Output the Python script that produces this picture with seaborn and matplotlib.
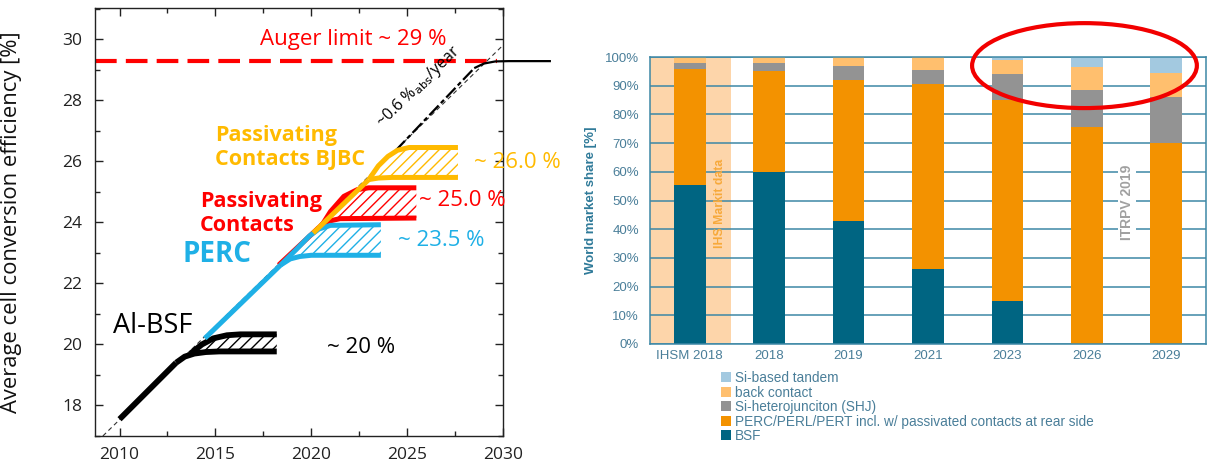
import numpy as np
import pandas as pd
import matplotlib
matplotlib.use("Agg")
import matplotlib.pyplot as plt
import seaborn as sns
from matplotlib.patches import Ellipse, Patch
from matplotlib.ticker import MultipleLocator, FuncFormatter

# ---------------- data: left chart (efficiency roadmap) ----------------
trend_x = [2009.13, 2030.0]
trend_y = [17.0, 29.8]
auger_limit = 29.27

bsf_trunk_x = [2010.0, 2012.95]
bsf_trunk_y = [17.55, 19.4]
bsf_low_x = [2012.95, 2013.4, 2013.9, 2014.5, 2015.2, 2018.2]
bsf_low_y = [19.4, 19.6, 19.7, 19.75, 19.77, 19.77]
bsf_up_x = [2013.7, 2014.3, 2014.9, 2015.6, 2016.3, 2018.2]
bsf_up_y = [19.7, 20.0, 20.2, 20.3, 20.33, 20.33]

perc_trunk_x = [2014.45, 2018.4]
perc_trunk_y = [20.2, 22.6]
perc_low_x = [2018.4, 2018.9, 2019.4, 2020.0, 2023.63]
perc_low_y = [22.6, 22.8, 22.88, 22.92, 22.92]
perc_up_x = [2018.4, 2019.2, 2019.9, 2020.4, 2021.0, 2023.63]
perc_up_y = [22.6, 23.1, 23.55, 23.78, 23.9, 23.92]

pc_trunk_x = [2018.3, 2020.6]
pc_trunk_y = [22.6, 23.95]
pc_low_x = [2020.6, 2021.0, 2021.5, 2025.48]
pc_low_y = [23.95, 24.05, 24.12, 24.14]
pc_up_x = [2020.6, 2021.0, 2021.7, 2022.4, 2023.0, 2025.48]
pc_up_y = [23.95, 24.35, 24.85, 25.07, 25.13, 25.13]

bjbc_trunk_x = [2020.1, 2023.0]
bjbc_trunk_y = [23.65, 25.4]
bjbc_low_x = [2023.0, 2023.5, 2024.2, 2027.65]
bjbc_low_y = [25.4, 25.45, 25.47, 25.47]
bjbc_up_x = [2023.0, 2023.5, 2024.0, 2024.5, 2025.1, 2027.65]
bjbc_up_y = [25.4, 25.85, 26.16, 26.36, 26.45, 26.45]

ext_dash_x = [2024.4, 2028.5]
ext_dash_y = [26.35, 29.05]
ext_solid_x = [2028.5, 2029.0, 2029.6, 2030.3, 2032.5]
ext_solid_y = [29.05, 29.2, 29.27, 29.28, 29.28]

# ---------------- data: right chart (market share) ----------------
categories = ["IHSM 2018", "2018", "2019", "2021", "2023", "2026", "2029"]
share_bsf = [55.5, 60.0, 43.0, 26.0, 15.0, 0.0, 0.0]
share_perc = [40.3, 35.0, 49.0, 64.5, 70.0, 75.5, 70.0]
share_shj = [2.2, 3.0, 5.0, 5.0, 9.0, 13.0, 16.0]
share_bc = [2.0, 2.0, 3.0, 4.5, 5.0, 8.0, 8.5]
share_tandem = [0.0, 0.0, 0.0, 0.0, 1.0, 3.5, 5.5]
legend_labels = ["Si-based tandem", "back contact", "Si-heterojunciton (SHJ)",
                 "PERC/PERL/PERT incl. w/ passivated contacts at rear side", "BSF"]

# ---------------- style ----------------
sns.set_theme(style="ticks")
plt.rcParams["font.family"] = ["Open Sans", "DejaVu Sans"]
plt.rcParams["hatch.linewidth"] = 1.0
ARIAL = ["Liberation Sans", "DejaVu Sans"]

BLACK = "#000000"
BLUE = "#1FB0E6"
RED = "#FF0000"
YELLOW = "#FFBA00"

C_TANDEM = "#A3C9E0"
C_BC = "#FFBF6E"
C_SHJ = "#939393"
C_PERC = "#F39200"
C_BSF = "#006582"
TEAL = "#3D88A6"
TXT = "#4A7E99"

fig = plt.figure(figsize=(12.07, 4.70), dpi=100)
ax1 = fig.add_axes([95 / 1207, 34 / 470, 408 / 1207, 428 / 470])
ax2 = fig.add_axes([650 / 1207, 126 / 470, 556 / 1207, 287 / 470])

# ---------------- left chart ----------------
def line(ax, x, y, color, lw, **kw):
    sns.lineplot(x=x, y=y, ax=ax, color=color, lw=lw, sort=False,
                 estimator=None, solid_capstyle="butt", **kw)

def hatch_band(ax, ux, uy, lx, ly, color, z):
    lx = np.asarray(lx); ly = np.asarray(ly)
    keep = lx > ux[0]
    px = list(ux) + list(lx[keep][::-1]) + [ux[0]]
    py = list(uy) + list(ly[keep][::-1]) + [uy[0]]
    ax.fill(px, py, facecolor="none", edgecolor=color, hatch="///", linewidth=0, zorder=z)

line(ax1, trend_x, trend_y, "#333333", 0.8, linestyle=(0, (4, 3)), zorder=1)
ax1.axhline(auger_limit, xmin=0, xmax=0.985, color=RED, lw=3, dashes=(5.2, 2.2), zorder=2)

techs = [
    (pc_trunk_x, pc_trunk_y, pc_low_x, pc_low_y, pc_up_x, pc_up_y, RED, 3.6, 3.0),
    (perc_trunk_x, perc_trunk_y, perc_low_x, perc_low_y, perc_up_x, perc_up_y, BLUE, 3.6, 3.2),
    (bjbc_trunk_x, bjbc_trunk_y, bjbc_low_x, bjbc_low_y, bjbc_up_x, bjbc_up_y, YELLOW, 3.6, 3.4),
    (bsf_trunk_x, bsf_trunk_y, bsf_low_x, bsf_low_y, bsf_up_x, bsf_up_y, BLACK, 4.2, 3.1),
]
for (tx, ty, lx_, ly_, ux_, uy_, col, lw, z) in techs:
    hatch_band(ax1, ux_, uy_, lx_, ly_, col, 2)
    line(ax1, tx, ty, col, lw, zorder=z)
    line(ax1, lx_, ly_, col, lw, zorder=z)
    line(ax1, ux_, uy_, col, lw, zorder=z)

line(ax1, ext_dash_x, ext_dash_y, BLACK, 1.6, linestyle=(0, (6, 1.5, 2, 1.5)), zorder=3)
line(ax1, ext_solid_x, ext_solid_y, BLACK, 1.6, zorder=3, clip_on=False)

ax1.set_xlim(2008.72, 2030.0)
ax1.set_ylim(17.0, 31.02)
ax1.xaxis.set_major_locator(MultipleLocator(5))
ax1.xaxis.set_minor_locator(MultipleLocator(2.5))
ax1.yaxis.set_major_locator(MultipleLocator(2))
ax1.yaxis.set_minor_locator(MultipleLocator(1))
ax1.tick_params(which="both", direction="in", top=True, right=True, width=1.0, colors="#222222",
                labelsize=12.5)
ax1.tick_params(which="major", length=6)
ax1.tick_params(which="minor", length=3.5)
ax1.tick_params(axis="y", pad=9)
ax1.tick_params(axis="x", pad=8)
for s in ax1.spines.values():
    s.set_linewidth(1.0)
    s.set_color("#222222")
ax1.set_xlabel("")
ax1.set_ylabel("Average cell conversion efficiency [%]", fontsize=15.8, color="#111111")
ax1.yaxis.set_label_coords(-0.18, 0.5)

ax1.text(2022.2, 30.0, "Auger limit ~ 29 %", color=RED, fontsize=16, ha="center", va="center")
ax1.text(2023.9, 26.95, r"~0.6 %$_{\mathrm{abs}}$/year", color=BLACK, fontsize=11.5,
         rotation=44, rotation_mode="anchor", ha="left", va="bottom")
ax1.text(2015.0, 26.45, "Passivating\nContacts BJBC", color=YELLOW, fontsize=15.5,
         fontweight="bold", ha="left", va="center", linespacing=1.2)
ax1.text(2014.2, 24.3, "Passivating\nContacts", color=RED, fontsize=15.5,
         fontweight="bold", ha="left", va="center", linespacing=1.2)
ax1.text(2013.3, 22.95, "PERC", color=BLUE, fontsize=20, fontweight="bold", ha="left", va="center")
ax1.text(2009.65, 20.6, "Al-BSF", color=BLACK, fontsize=19.5, ha="left", va="center")
ax1.text(2020.8, 19.9, "~ 20 %", color=BLACK, fontsize=16, ha="left", va="center")
ax1.text(2024.5, 23.4, "~ 23.5 %", color=BLUE, fontsize=16, ha="left", va="center")
ax1.text(2025.6, 24.72, "~ 25.0 %", color=RED, fontsize=16, ha="left", va="center")
ax1.text(2028.5, 25.95, "~ 26.0 %", color=YELLOW, fontsize=16, ha="left", va="center")

# ---------------- right chart ----------------
layers = [
    (legend_labels[0], share_tandem, C_TANDEM),
    (legend_labels[1], share_bc, C_BC),
    (legend_labels[2], share_shj, C_SHJ),
    (legend_labels[3], share_perc, C_PERC),
    (legend_labels[4], share_bsf, C_BSF),
]
bottom_up = [share_bsf, share_perc, share_shj, share_bc, share_tandem]
cums = np.cumsum(np.array(bottom_up), axis=0)  # cumulative tops, bottom -> top
cums_top_down = cums[::-1]

ax2.axvspan(-0.5, 0.52, color="#FDD5AA", lw=0, zorder=0.2)
for (lab, vals, col), top in zip(layers, cums_top_down):
    sns.barplot(x=categories, y=top, color=col, saturation=1, width=0.4, ax=ax2,
                order=categories, linewidth=0, zorder=2)

ax2.set_xlim(-0.5, 6.5)
ax2.set_ylim(0, 100)
ax2.yaxis.set_major_locator(MultipleLocator(10))
ax2.yaxis.set_major_formatter(FuncFormatter(lambda v, p: f"{v:.0f}%"))
ax2.yaxis.grid(True, color=TEAL, lw=1.1)
ax2.xaxis.grid(False)
ax2.set_axisbelow(True)
for s in ax2.spines.values():
    s.set_color(TEAL)
    s.set_linewidth(1.1)
ax2.tick_params(axis="both", length=0, labelcolor=TXT, labelsize=9.5)
ax2.tick_params(axis="y", pad=8)
ax2.tick_params(axis="x", pad=4)
for lab in ax2.get_xticklabels() + ax2.get_yticklabels():
    lab.set_fontfamily(ARIAL)
ax2.set_xlabel("")
ax2.set_ylabel("World market share [%]", fontsize=9.5, fontweight="bold", color="#2F7A99",
               family=ARIAL)
ax2.yaxis.set_label_coords(-0.095, 0.5)

ax2.text(0.38, 49, "IHS Markit data", rotation=90, color="#F7A93B", fontsize=8.8,
         fontweight="bold", ha="center", va="center", family=ARIAL, zorder=3)
ax2.text(5.51, 49.5, "ITRPV 2019", rotation=90, color="#A0A0A0", fontsize=10,
         fontweight="bold", ha="center", va="center", family=ARIAL,
         bbox=dict(facecolor="white", edgecolor="none", pad=1.5), zorder=3)

ax2.add_patch(Ellipse((4.97, 97.0), 2.83, 29.6, fill=False, edgecolor="#F20000", lw=3,
                      clip_on=False, zorder=6))

handles = [Patch(facecolor=col, edgecolor="none", label=lab) for lab, _, col in layers]
leg = fig.legend(handles=handles, loc="upper left", bbox_to_anchor=(721 / 1207, 1 - 371 / 470),
                 frameon=False, handlelength=0.75, handleheight=0.75,
                 handletextpad=0.25, labelspacing=0.04, borderaxespad=0, borderpad=0,
                 prop={"family": ARIAL, "size": 9.8})
for t in leg.get_texts():
    t.set_color(TXT)

fig.savefig("out.png", dpi=100)
